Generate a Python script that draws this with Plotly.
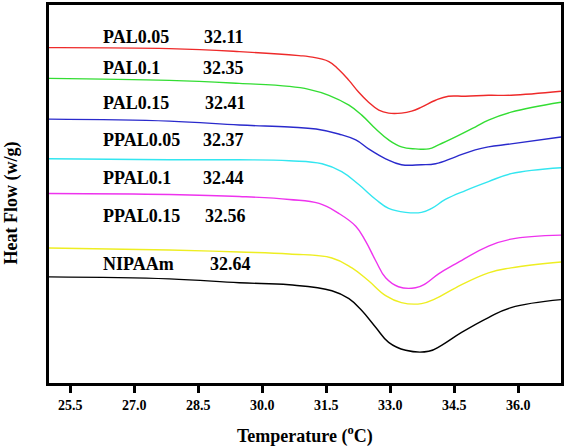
import plotly.graph_objects as go

# Temperature (°C) and heat flow (w/g, offset curves)
red_T = [25.00, 27.82, 29.46, 30.86, 31.09, 31.56, 31.79, 32.03, 32.26, 32.49, 32.73, 32.96, 33.26, 33.50, 33.73, 34.06, 34.36, 34.76, 35.30, 35.83, 37.00]
red_H = [3.38, 3.37, 3.34, 3.30, 3.29, 3.24, 3.16, 3.05, 2.93, 2.83, 2.75, 2.72, 2.72, 2.74, 2.78, 2.85, 2.89, 2.89, 2.90, 2.90, 2.94]

green_T = [25.00, 27.82, 29.46, 30.63, 31.09, 31.56, 32.03, 32.33, 32.66, 32.96, 33.26, 33.59, 33.90, 34.13, 34.53, 34.99, 35.30, 35.83, 37.00]
green_H = [3.07, 3.05, 3.02, 2.99, 2.96, 2.90, 2.80, 2.70, 2.56, 2.45, 2.38, 2.36, 2.36, 2.40, 2.48, 2.58, 2.65, 2.73, 2.83]

blue_T = [25.00, 27.82, 29.46, 30.63, 31.26, 31.79, 32.19, 32.49, 32.89, 33.26, 33.73, 34.06, 34.53, 34.99, 35.30, 35.83, 37.00]
blue_H = [2.66, 2.64, 2.60, 2.58, 2.56, 2.51, 2.45, 2.36, 2.26, 2.20, 2.20, 2.21, 2.28, 2.35, 2.38, 2.41, 2.48]

cyan_T = [25.00, 27.82, 29.46, 30.63, 31.40, 31.86, 32.26, 32.66, 32.96, 33.36, 33.73, 33.97, 34.29, 34.76, 35.30, 35.83, 37.00]
cyan_H = [2.26, 2.25, 2.25, 2.24, 2.21, 2.13, 2.00, 1.85, 1.76, 1.72, 1.72, 1.76, 1.85, 1.94, 2.03, 2.11, 2.17]

magenta_T = [25.00, 27.82, 29.46, 30.63, 31.33, 31.79, 32.19, 32.42, 32.66, 32.89, 33.19, 33.59, 33.82, 34.13, 34.53, 35.30, 35.83, 37.00]
magenta_H = [1.91, 1.90, 1.88, 1.85, 1.81, 1.71, 1.58, 1.43, 1.23, 1.06, 0.97, 0.96, 1.00, 1.10, 1.20, 1.38, 1.45, 1.49]

yellow_T = [25.00, 27.82, 29.46, 30.63, 31.63, 32.10, 32.49, 32.89, 33.26, 33.73, 34.06, 34.53, 35.30, 35.83, 37.00]
yellow_H = [1.36, 1.34, 1.32, 1.30, 1.26, 1.16, 1.03, 0.88, 0.81, 0.80, 0.85, 0.96, 1.11, 1.16, 1.22]

black_T = [25.00, 27.82, 29.46, 30.63, 31.63, 32.03, 32.33, 32.66, 32.96, 33.36, 33.90, 34.20, 34.67, 35.30, 35.83, 37.00]
black_H = [1.07, 1.05, 1.01, 0.99, 0.93, 0.85, 0.73, 0.56, 0.41, 0.33, 0.32, 0.38, 0.51, 0.66, 0.76, 0.84]

sample_names = ["PAL0.05", "PAL0.1", "PAL0.15", "PPAL0.05", "PPAL0.1", "PPAL0.15", "NIPAAm"]
lcst_values = ["32.11", "32.35", "32.41", "32.37", "32.44", "32.56", "32.64"]
label_H = [3.49, 3.18, 2.82, 2.45, 2.07, 1.68, 1.20]
value_T = [28.59, 28.57, 28.62, 28.57, 28.57, 28.62, 28.73]

tick_vals = [25.5, 27.0, 28.5, 30.0, 31.5, 33.0, 34.5, 36.0]
tick_text = ["25.5", "27.0", "28.5", "30.0", "31.5", "33.0", "34.5", "36.0"]

series = [
    (red_T, red_H, "#ee2a2a"),
    (green_T, green_H, "#33dd33"),
    (blue_T, blue_H, "#2a2acc"),
    (cyan_T, cyan_H, "#33e6f0"),
    (magenta_T, magenta_H, "#ee33ee"),
    (yellow_T, yellow_H, "#eeee22"),
    (black_T, black_H, "#000000"),
]

FONT = "Liberation Serif, Times New Roman, serif"

fig = go.Figure()
for (T, H, c), name in zip(series, sample_names):
    fig.add_trace(go.Scatter(x=T, y=H, mode="lines", name=name,
                             line=dict(color=c, width=1.4, shape="spline", smoothing=1.2)))

for name, val, h, vt in zip(sample_names, lcst_values, label_H, value_T):
    fig.add_annotation(x=26.23, y=h, xref="x", yref="y", text=name, showarrow=False,
                       xanchor="left", yanchor="middle",
                       font=dict(family=FONT, size=18, color="black", weight="bold"))
    fig.add_annotation(x=vt, y=h, xref="x", yref="y", text=val, showarrow=False,
                       xanchor="left", yanchor="middle",
                       font=dict(family=FONT, size=18, color="black", weight="bold"))

fig.add_annotation(x=0.5, y=-(435 - 383) / 381.0, xref="paper", yref="paper",
                   text="Temperature (<sup>o</sup>C)",
                   showarrow=False, xanchor="center", yanchor="middle",
                   font=dict(family=FONT, size=18, color="black", weight="bold"))
fig.add_annotation(x=-(49 - 11) / 514.0, y=(383 - 202) / 381.0, xref="paper", yref="paper",
                   text="Heat Flow (w/g)", showarrow=False, textangle=-90,
                   xanchor="center", yanchor="middle",
                   font=dict(family=FONT, size=18, color="black", weight="bold"))

fig.update_layout(
    width=566, height=446,
    margin=dict(l=49, r=3, t=2, b=63),
    paper_bgcolor="white", plot_bgcolor="white",
    showlegend=False,
    xaxis=dict(range=[25.0, 37.0], tickvals=tick_vals, ticktext=tick_text,
               ticks="outside", ticklen=7, tickwidth=2.5, tickcolor="black",
               showline=True, linewidth=3, linecolor="black", mirror=True,
               showgrid=False, zeroline=False,
               tickfont=dict(family=FONT, size=14, color="black", weight="bold")),
    yaxis=dict(range=[0, 3.81], showticklabels=False, ticks="",
               showline=True, linewidth=3, linecolor="black", mirror=True,
               showgrid=False, zeroline=False),
)

fig.write_html("out.html", config={"displayModeBar": False},
               post_script="document.body.style.margin='0';document.body.style.padding='0';")
